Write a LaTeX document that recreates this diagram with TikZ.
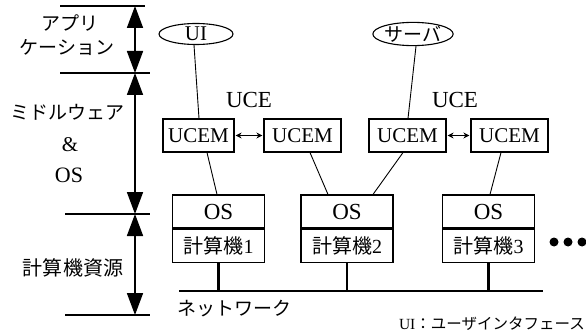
\documentclass[tikz,border=0pt]{standalone}
\usepackage{fontspec}
\setmainfont{Liberation Serif}
\newfontfamily\jp{Noto Sans CJK JP}
\usetikzlibrary{shapes.geometric,arrows.meta}
\begin{document}
\begin{tikzpicture}[x=1pt,y=-1pt,
  lbl/.style={inner sep=0pt,font=\jp\fontsize{19}{19}\selectfont},
  ser/.style={inner sep=0pt,font=\fontsize{22}{22}\selectfont},
  app/.style={draw,ellipse,line width=1.1pt,inner sep=0pt,minimum height=21,font=\fontsize{21}{21}\selectfont},
  ucem/.style={draw,line width=1.1pt,inner sep=0pt,minimum height=33,font=\fontsize{21}{21}\selectfont},
  osbox/.style={draw,line width=1.1pt,inner sep=0pt,minimum width=92,minimum height=33,font=\fontsize{23}{23}\selectfont},
  pcbox/.style={draw,line width=1.1pt,inner sep=0pt,minimum width=92,minimum height=33,font=\fontsize{20}{20}\selectfont},
  link/.style={line width=0.9pt},
  dbl/.style={line width=0.9pt,{Stealth[length=6pt,width=6pt]}-{Stealth[length=6pt,width=6pt]},shorten <=1pt,shorten >=1pt},
  net/.style={line width=2.6pt},
  level/.style={line width=1.3pt},
  axis/.style={line width=1.8pt,{Triangle[length=22pt,width=16pt]}-{Triangle[length=22pt,width=16pt]}},
  dot/.style={fill=black,circle,inner sep=0pt,minimum size=9pt}
]
\useasboundingbox (0,0) rectangle (586,334);
% left scale
\coordinate (a0) at (135,6);
\coordinate (a1) at (135,73);
\coordinate (a2) at (135,214);
\coordinate (a3) at (135,315);
\draw[level] (60,6) -- (145,6);
\draw[level] (60,73) -- (150,73);
\draw[level] (65,214) -- (150,214);
\draw[level] (65,315) -- (150,315);
\draw[axis] (a0) -- (a1);
\draw[axis] (a1) -- (a2);
\draw[axis] (a2) -- (a3);
\node[lbl] (t1) at (70,23) {アプリ};
\node[lbl] (t2) at (67,48) {ケーション};
\node[lbl] (t3) at (67,112) {ミドルウェア};
\node[ser,font=\fontsize{21}{21}\selectfont] (t4) at (70,145) {\&};
\node[ser] (t5) at (69,175) {OS};
\node[lbl,font=\jp\fontsize{20}{20}\selectfont] (t6) at (73,268) {計算機資源};
% applications
\node[app,minimum width=74] (ui) at (196,34) {UI};
\node[app,minimum width=78,font=\jp\fontsize{19}{19}\selectfont] (srv) at (413,34) {サーバ};
% UCE
\node[ser,font=\fontsize{23}{23}\selectfont] (uce1) at (249,100) {UCE};
\node[ser,font=\fontsize{23}{23}\selectfont] (uce2) at (455,100) {UCE};
\node[ucem,minimum width=71] (m1) at (198.5,135.5) {UCEM};
\node[ucem,minimum width=77] (m2) at (302.5,135.5) {UCEM};
\node[ucem,minimum width=77] (m3) at (407.5,135.5) {UCEM};
\node[ucem,minimum width=77] (m4) at (509.5,135.5) {UCEM};
\draw[dbl] (m1) -- (m2);
\draw[dbl] (m3) -- (m4);
% OS / computers
\node[osbox] (os1) at (218.5,211.5) {OS};
\node[pcbox,anchor=north] (pc1) at (os1.south) {{\jp 計算機}1};
\node[osbox] (os2) at (347,211.5) {OS};
\node[pcbox,anchor=north] (pc2) at (os2.south) {{\jp 計算機}2};
\node[osbox] (os3) at (488.5,211.5) {OS};
\node[pcbox,anchor=north] (pc3) at (os3.south) {{\jp 計算機}3};
% links
\draw[link] ([xshift=-2]ui.south) -- ([xshift=0.5]m1.north);
\draw[link] ([xshift=3]srv.south) -- ([xshift=0.5]m3.north);
\draw[link] ([xshift=8.5]m1.south) -- ([xshift=-1.5]os1.north);
\draw[link] ([xshift=7.5]m2.south) -- ([xshift=-19]os2.north);
\draw[link] ([xshift=-4.5]m3.south) -- ([xshift=26]os2.north);
\draw[link] ([xshift=-8.5]m4.south) -- ([xshift=1.5]os3.north);
% network
\coordinate (nl) at (179,291);
\coordinate (nr) at (543,291);
\draw[net] (nl) -- (nr);
\draw[net] (pc1.south) -- (pc1.south |- nl);
\draw[net] (pc2.south) -- (pc2.south |- nl);
\draw[net] (pc3.south) -- (pc3.south |- nl);
\node[lbl,font=\jp\fontsize{19}{19}\selectfont,anchor=west] (nw) at (177,309) {ネットワーク};
% dots
\node[dot] (d1) at (554,242) {};
\node[dot] (d2) at (568,242) {};
\node[dot] (d3) at (582,242) {};
% legend
\node[inner sep=0pt,anchor=east,font=\fontsize{15.5}{15.5}\selectfont] (leg) at (585,324) {UI{\jp ：ユーザインタフェース}};
\end{tikzpicture}
\end{document}
